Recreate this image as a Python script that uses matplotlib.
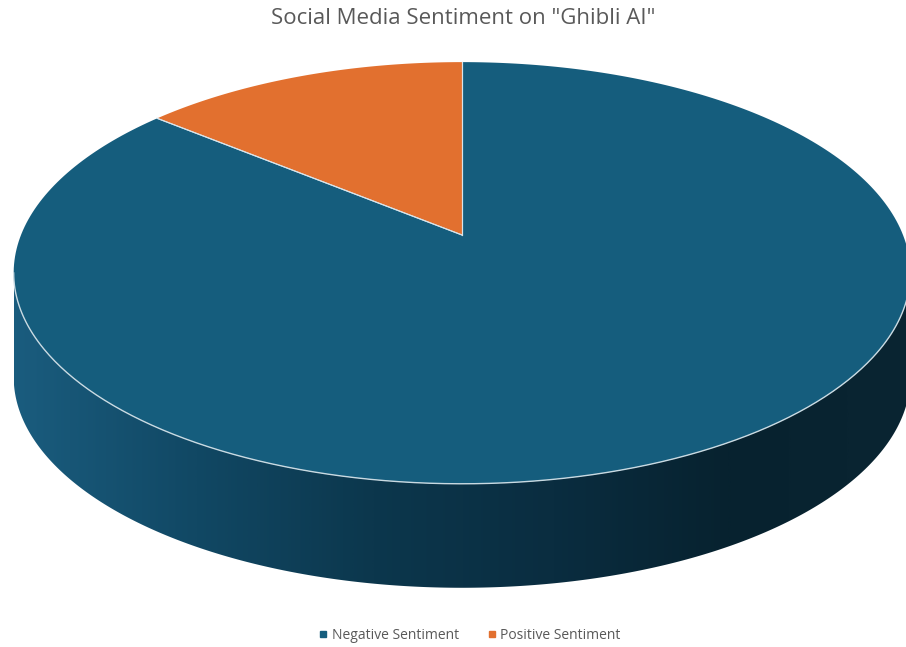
import numpy as np
import matplotlib
matplotlib.use("Agg")
import matplotlib.pyplot as plt
from matplotlib.patches import Polygon
from matplotlib.lines import Line2D
from matplotlib.colors import LinearSegmentedColormap

# ==========================================
# DATOS
# ==========================================
etiquetas = ["Negative Sentiment", "Positive Sentiment"]
valores = [86, 14]
colores = ["#155D7D", "#E2702F"]
titulo = 'Social Media Sentiment on "Ghibli AI"'

# geometria del pie 3D con perspectiva (pixeles de la figura)
cx, cy = 462, 235      # centro proyectado del disco
A, B = 441, 204        # radios antes de la perspectiva
k = 0.18               # fuerza de la perspectiva
prof = 104             # grosor del cilindro

plt.rcParams['font.family'] = ['Open Sans', 'DejaVu Sans']

fig = plt.figure(figsize=(9.06, 6.47), dpi=100)
ax = fig.add_axes([0, 0, 1, 1])
ax.set_xlim(0, 906)
ax.set_ylim(647, 0)
ax.axis('off')


def punto(t, dy=0, r=1.0):
    # t en grados, sentido horario desde las 12 (fondo = arriba)
    rad = np.radians(t)
    u = r * np.sin(rad)
    v = r * np.cos(rad)
    w = 1 + k * v
    return cx + A * u / w, cy - B * v / w + dy


# ==========================================
# LATERAL (parte frontal del cilindro)
# ==========================================
t_lim = np.degrees(np.arccos(-k))
ts = np.linspace(t_lim, 360 - t_lim, 300)
xs_sup, ys_sup = punto(ts)
xs_inf, ys_inf = punto(ts[::-1], prof)
lateral = np.column_stack([np.concatenate([xs_sup, xs_inf]),
                           np.concatenate([ys_sup, ys_inf])])
poly_lat = Polygon(lateral, closed=True, facecolor='none', edgecolor='none')
ax.add_patch(poly_lat)

cmap_lat = LinearSegmentedColormap.from_list(
    'lateral', ["#1A5C7E", "#114864", "#0C374D", "#0A2D40", "#07222F", "#0A2532"])
grad = np.linspace(0, 1, 400).reshape(1, -1)
x_min, x_max = xs_sup.min(), xs_sup.max()
img = ax.imshow(grad, cmap=cmap_lat, aspect='auto',
                extent=(x_min, x_max, ys_inf.max() + 2, cy), zorder=1)
img.set_clip_path(poly_lat)

# linea clara entre la cara superior y el lateral
ax.plot(xs_sup, ys_sup, color='#C9DAE2', linewidth=1.0, zorder=3)

# ==========================================
# CARA SUPERIOR (porciones)
# ==========================================
total = sum(valores)
inicio = 0.0
for i in range(len(valores)):
    ang = valores[i] / total * 360
    tt = np.linspace(inicio, inicio + ang, 300)
    px, py = punto(tt)
    verts = np.column_stack([np.concatenate([[cx], px]), np.concatenate([[cy], py])])
    ax.add_patch(Polygon(verts, closed=True, facecolor=colores[i],
                         edgecolor='none', zorder=2))
    # borde claro en los radios
    for t0 in (inicio, inicio + ang):
        ex, ey = punto(t0)
        ax.plot([cx, ex], [cy, ey], color='#D8E4EA', linewidth=0.8, zorder=3)
    inicio += ang

# ==========================================
# TITULO Y LEYENDA
# ==========================================
fig.text(0.511, 0.971, titulo, ha='center', va='center',
         fontsize=16, color='#595959')

handles = [Line2D([], [], marker='s', linestyle='none', markersize=4,
                  markerfacecolor=c, markeredgecolor=c) for c in colores]
fig.legend(handles, etiquetas, loc='center', bbox_to_anchor=(0.518, 0.018),
           ncol=2, frameon=False, fontsize=10, labelcolor='#595959',
           handletextpad=0.2, columnspacing=2.0, handlelength=0.8)

plt.savefig('out.png', dpi=100)
